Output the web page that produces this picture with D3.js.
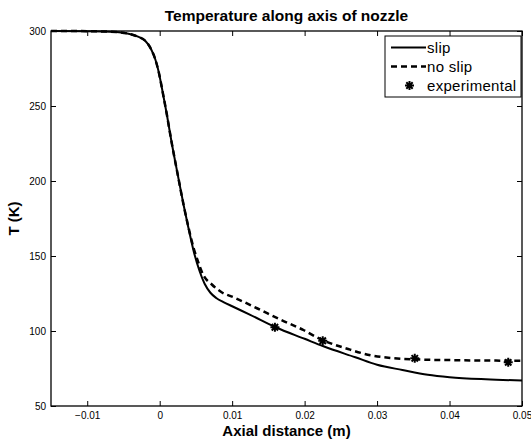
<!DOCTYPE html>
<html>
<head>
<meta charset="utf-8">
<script src="https://cdn.jsdelivr.net/npm/d3@7"></script>
<style>
  body { margin: 0; background: #fff; }
  svg text { font-family: "Liberation Sans", Arial, Helvetica, sans-serif; fill: #000; }
</style>
</head>
<body>
<div id="chart"></div>
<script>
// ---- data ----
let slipX = [-0.015, -0.010, -0.006, -0.004, -0.003, -0.002, -0.0012, -0.0006, -0.0002, 0.0005, 0.0010, 0.0016,
    0.0025, 0.0033, 0.0040, 0.0047, 0.0055, 0.0062, 0.0070, 0.0078, 0.0088, 0.0100, 0.0125, 0.0160, 0.0200,
    0.0226, 0.0270, 0.0300, 0.0335, 0.0370, 0.0400, 0.0450, 0.0500];
let slipT = [300, 299.9, 299.3, 297.8, 296.2, 293.5, 288, 281, 274, 257, 244, 227,
    204, 184, 168, 153, 140, 131.5, 125.5, 122, 119.3, 116.5, 110.8, 102.5, 94.8,
    89.8, 82.5, 77.5, 74, 70.8, 69.2, 67.8, 67];

let noSlipX = [-0.015, -0.010, -0.006, -0.004, -0.003, -0.002, -0.0012, -0.0006, -0.0002, 0.0005, 0.0010, 0.0016,
    0.0025, 0.0033, 0.0040, 0.0047, 0.0052, 0.0060, 0.0072, 0.0085, 0.0102, 0.0135, 0.0167, 0.0199,
    0.0222, 0.0260, 0.0291, 0.0320, 0.0351, 0.0400, 0.0450, 0.0500];
let noSlipT = [300, 299.9, 299.3, 297.8, 296.2, 293.5, 288, 281, 274, 257, 244, 227,
    204, 184, 168.5, 155, 147.5, 137.5, 131, 126, 122.5, 115, 107.5, 100.5,
    94.5, 88, 83.8, 82, 81.1, 80.6, 80.3, 80.2];

let expX = [0.0159, 0.0225, 0.0352, 0.0481];
let expT = [102.5, 93.5, 81.8, 79.1];

let xTicks = [-0.01, 0, 0.01, 0.02, 0.03, 0.04, 0.05];
let yTicks = [50, 100, 150, 200, 250, 300];
let seriesNames = ["slip", "no slip", "experimental"];

// ---- layout ----
let width = 531, height = 443;
let plot = {left: 51, right: 522, top: 31, bottom: 406};

let svg = d3.select("#chart").append("svg")
    .attr("width", width)
    .attr("height", height);

let x = d3.scaleLinear().domain([-0.015, 0.05]).range([plot.left, plot.right]);
let y = d3.scaleLinear().domain([50, 300]).range([plot.bottom, plot.top]);

let fmt = d => d === 0 ? "0" : d3.format(".2f")(d);

// axes, ticks pointing inward
let xAxisB = svg.append("g")
    .attr("transform", "translate(0," + plot.bottom + ")")
    .call(d3.axisBottom(x).tickValues(xTicks).tickFormat(fmt).tickSizeInner(-5).tickSizeOuter(0).tickPadding(6));
let xAxisT = svg.append("g")
    .attr("transform", "translate(0," + plot.top + ")")
    .call(d3.axisTop(x).tickValues(xTicks).tickFormat("").tickSizeInner(-5).tickSizeOuter(0));
let yAxisL = svg.append("g")
    .attr("transform", "translate(" + plot.left + ",0)")
    .call(d3.axisLeft(y).tickValues(yTicks).tickSizeInner(-5).tickSizeOuter(0).tickPadding(5));
let yAxisR = svg.append("g")
    .attr("transform", "translate(" + plot.right + ",0)")
    .call(d3.axisRight(y).tickValues(yTicks).tickFormat("").tickSizeInner(-5).tickSizeOuter(0));

[xAxisB, xAxisT, yAxisL, yAxisR].forEach(g => {
    g.select(".domain").remove();
    g.selectAll(".tick line").attr("stroke", "#000").attr("stroke-width", 1);
    g.selectAll("text").style("font-size", "10px").attr("fill", "#000");
});

// box
svg.append("rect")
    .attr("x", plot.left)
    .attr("y", plot.top)
    .attr("width", plot.right - plot.left)
    .attr("height", plot.bottom - plot.top)
    .attr("fill", "none")
    .attr("stroke", "#000")
    .attr("stroke-width", 1.3);

// lines
let line = d3.line()
    .x(d => x(d[0]))
    .y(d => y(d[1]))
    .curve(d3.curveMonotoneX);

svg.append("path")
    .datum(slipX.map((v, i) => [v, slipT[i]]))
    .attr("fill", "none")
    .attr("stroke", "#000")
    .attr("stroke-width", 2)
    .attr("d", line);

svg.append("path")
    .datum(noSlipX.map((v, i) => [v, noSlipT[i]]))
    .attr("fill", "none")
    .attr("stroke", "#000")
    .attr("stroke-width", 2.5)
    .attr("stroke-dasharray", "6,4")
    .attr("d", line);

// asterisk marker (MATLAB style '*')
function star(cx, cy, r) {
    let d = r * 0.7071;
    return "M" + (cx - r) + "," + cy + "L" + (cx + r) + "," + cy +
        "M" + cx + "," + (cy - r) + "L" + cx + "," + (cy + r) +
        "M" + (cx - d) + "," + (cy - d) + "L" + (cx + d) + "," + (cy + d) +
        "M" + (cx - d) + "," + (cy + d) + "L" + (cx + d) + "," + (cy - d);
}

svg.selectAll(".exp")
    .data(expX.map((v, i) => [v, expT[i]]))
    .enter()
    .append("path")
    .attr("class", "exp")
    .attr("d", d => star(x(d[0]), y(d[1]), 4.5))
    .attr("stroke", "#000")
    .attr("stroke-width", 2)
    .attr("fill", "none");

// title and labels
svg.append("text")
    .attr("x", (plot.left + plot.right) / 2)
    .attr("y", 21)
    .attr("text-anchor", "middle")
    .style("font-size", "15.5px")
    .style("font-weight", "bold")
    .text("Temperature along axis of nozzle");

svg.append("text")
    .attr("x", (plot.left + plot.right) / 2)
    .attr("y", 436)
    .attr("text-anchor", "middle")
    .style("font-size", "15px")
    .style("font-weight", "bold")
    .text("Axial distance (m)");

svg.append("text")
    .attr("transform", "translate(19," + (plot.top + plot.bottom) / 2 + ") rotate(-90)")
    .attr("text-anchor", "middle")
    .style("font-size", "15px")
    .style("font-weight", "bold")
    .text("T (K)");

// legend
let legend = svg.append("g");
legend.append("rect")
    .attr("x", 385)
    .attr("y", 36)
    .attr("width", 136)
    .attr("height", 61)
    .attr("fill", "#fff")
    .attr("stroke", "#000")
    .attr("stroke-width", 1);

let rows = [47.5, 66.5, 85.5];
seriesNames.forEach((name, i) => {
    if (i === 0 || i === 1) {
        legend.append("line")
            .attr("x1", 391).attr("x2", 426)
            .attr("y1", rows[i]).attr("y2", rows[i])
            .attr("stroke", "#000")
            .attr("stroke-width", i === 0 ? 2 : 2.5)
            .attr("stroke-dasharray", i === 1 ? "6,4" : null);
    } else {
        legend.append("path")
            .attr("d", star(409.5, rows[i], 4.5))
            .attr("stroke", "#000")
            .attr("stroke-width", 2);
    }
    legend.append("text")
        .attr("x", 427)
        .attr("y", rows[i] + 5)
        .style("font-size", "15px")
        .style("letter-spacing", "0.3px")
        .text(name);
});
</script>
</body>
</html>
